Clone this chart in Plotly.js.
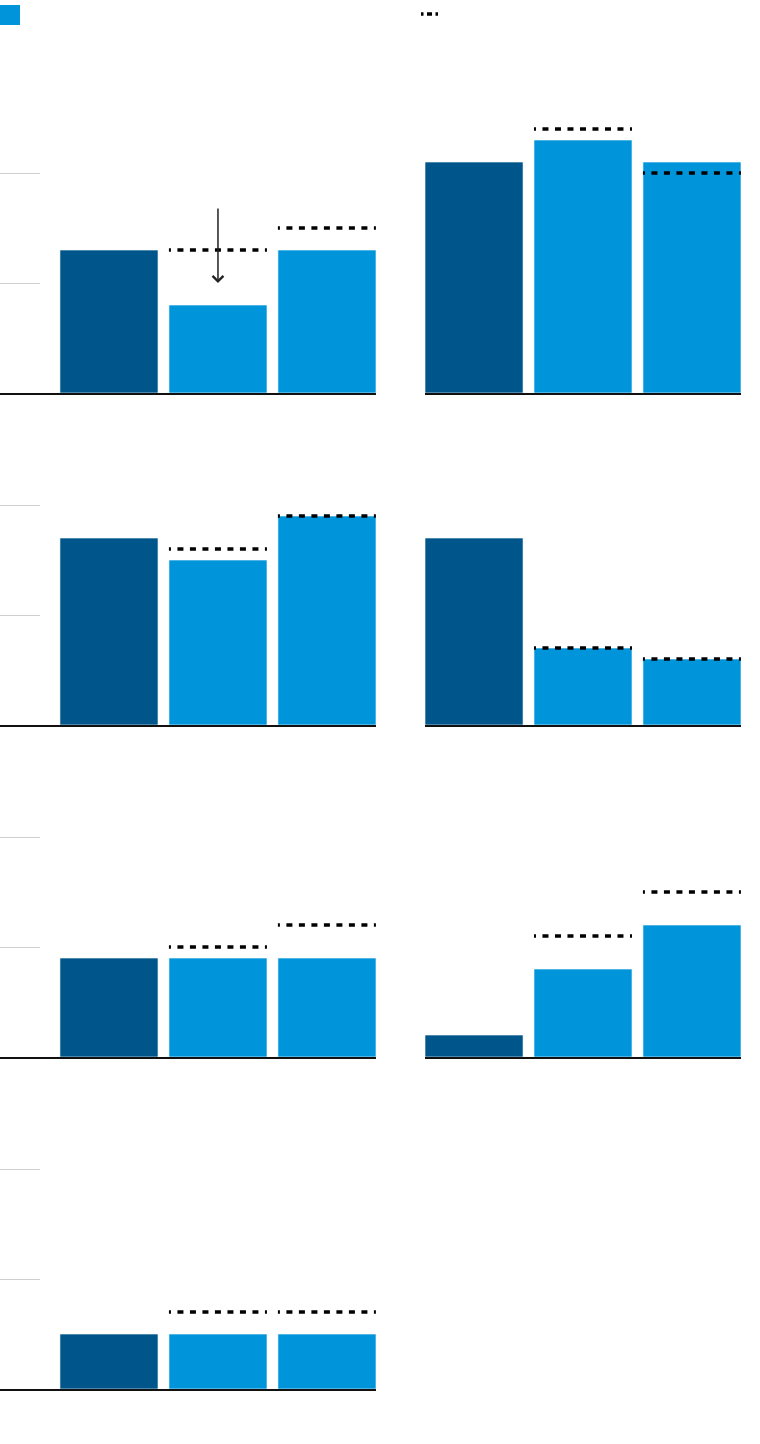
<!DOCTYPE html>
<html>
<head>
<meta charset="utf-8">
<script src="https://cdn.plot.ly/plotly-3.0.1.min.js"></script>
<style>html,body{margin:0;padding:0;background:#fff;}#chart{width:760px;height:1444px;}</style>
</head>
<body>
<div id="chart"></div>
<script>
// ---- data ----
const positions = [1, 2, 3];
const barColors = ['#00568A', '#0095DA', '#0095DA'];
const actual1 = [13, 8, 13];   const target1 = [null, 13, 15];
const actual2 = [21, 23, 21];  const target2 = [null, 24, 20];
const actual3 = [17, 15, 19];  const target3 = [null, 16, 19];
const actual4 = [17, 7, 6];    const target4 = [null, 7, 6];
const actual5 = [9, 9, 9];     const target5 = [null, 10, 12];
const actual6 = [2, 8, 12];    const target6 = [null, 11, 15];
const actual7 = [5, 5, 5];     const target7 = [null, 7, 7];
const gridTicks = [10, 20];
const arrowFrom = 16.9;   // arrow tail value (panel 1, bar 2)
const arrowTo = 10;       // arrow tip value

const actuals = [actual1, actual2, actual3, actual4, actual5, actual6, actual7];
const targets = [target1, target2, target3, target4, target5, target6, target7];

// ---- layout geometry ----
const W = 760, H = 1444;
const BAR_W = 0.9;
const yMax = 26;
const rowBase = [393, 725, 1057, 1389];
const panelH = 286;
const colDom = [[0, 376 / W], [425 / W, 741 / W]];
const colRange = [[0, 3.45], [0.55, 3.45]];
const targetDash = '2px,6.5px,6px,6.5px,6px,6.5px,6px,6.5px,6px,6.5px,6px,6.5px,6px,6.5px,6px,6.5px,2px,30px';

const data = [];
const layout = {
  width: W, height: H,
  margin: {l: 0, r: 0, t: 0, b: 0},
  paper_bgcolor: '#fff', plot_bgcolor: 'rgba(0,0,0,0)',
  showlegend: false,
  bargap: 0,
  shapes: [],
  annotations: []
};

let axN = 0;
function newAx() { axN++; return axN === 1 ? '' : String(axN); }

actuals.forEach((vals, i) => {
  const row = Math.floor(i / 2), col = i % 2;
  const B = rowBase[row];
  const yd = [(H - B) / H, (H - (B - panelH)) / H];
  const n = newAx();
  const xk = 'xaxis' + n, yk = 'yaxis' + n;
  layout[xk] = {
    domain: colDom[col], range: colRange[col], anchor: 'y' + n,
    showgrid: false, zeroline: false, showticklabels: false, ticks: '',
    showline: true, linecolor: '#111', linewidth: 2, fixedrange: true
  };
  layout[yk] = {
    domain: yd, range: [0, yMax], anchor: 'x' + n,
    showgrid: false, zeroline: false, showticklabels: false, ticks: '',
    showline: false, fixedrange: true
  };
  data.push({
    type: 'bar', x: positions, y: vals, width: BAR_W,
    xaxis: 'x' + n, yaxis: 'y' + n,
    marker: {color: barColors, line: {color: 'rgba(255,255,255,0.6)', width: 1}},
    hoverinfo: 'skip'
  });
  // dotted target lines
  const tx = [], ty = [];
  targets[i].forEach((t, k) => {
    if (t === null) return;
    tx.push(positions[k] - BAR_W / 2, positions[k] + BAR_W / 2, null);
    ty.push(t, t, null);
  });
  data.push({
    type: 'scatter', mode: 'lines', x: tx, y: ty,
    xaxis: 'x' + n, yaxis: 'y' + n, connectgaps: false,
    line: {color: '#000', width: 3.3, dash: targetDash}, hoverinfo: 'skip'
  });
  if (i === 0) {
    layout.annotations.push({
      x: positions[1], y: arrowTo, ax: positions[1], ay: arrowFrom,
      xref: 'x' + n, yref: 'y' + n, axref: 'x' + n, ayref: 'y' + n,
      text: '', showarrow: true, arrowhead: 4, arrowsize: 1.4,
      arrowwidth: 1.5, arrowcolor: '#222', standoff: 0
    });
  }
  // short gridlines on left-column panels
  if (col === 0) {
    const g = newAx();
    layout['xaxis' + g] = {
      domain: [0, 40 / W], range: [0, 1], anchor: 'y' + g,
      showgrid: false, zeroline: false, showticklabels: false, ticks: '', showline: false, fixedrange: true
    };
    layout['yaxis' + g] = {
      domain: yd, range: [0, yMax], anchor: 'x' + g,
      tickmode: 'array', tickvals: gridTicks, showgrid: true, gridcolor: '#cfcfcf', gridwidth: 1,
      zeroline: false, showticklabels: false, ticks: '', showline: false, fixedrange: true
    };
    data.push({type: 'scatter', x: [], y: [], xaxis: 'x' + g, yaxis: 'y' + g, hoverinfo: 'skip'});
  }
});

// legend swatches
layout.shapes.push({
  type: 'rect', xref: 'paper', yref: 'paper',
  x0: 0, x1: 20 / W, y0: (H - 25) / H, y1: (H - 5) / H,
  fillcolor: '#0095DA', line: {width: 0}
});
layout.shapes.push({
  type: 'line', xref: 'paper', yref: 'paper',
  x0: 421 / W, x1: 441 / W, y0: (H - 14) / H, y1: (H - 14) / H,
  line: {color: '#000', width: 3.3, dash: '2.5px,3.5px,5px,3.5px,2.5px,20px'}
});

Plotly.newPlot('chart', data, layout, {staticPlot: true, displayModeBar: false});
</script>
</body>
</html>
